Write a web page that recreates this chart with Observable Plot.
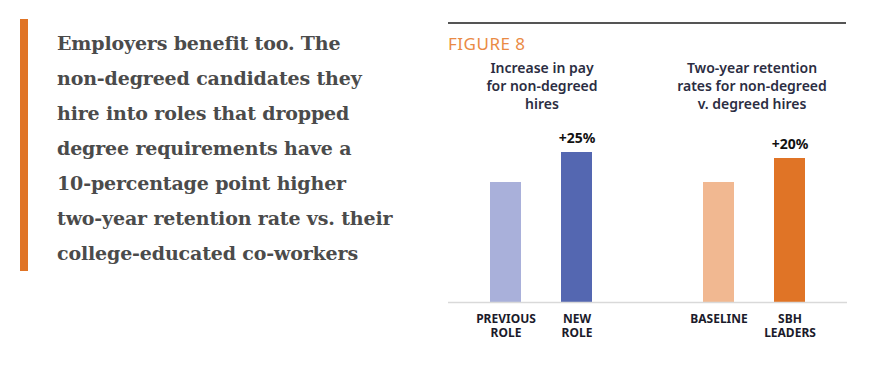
<!DOCTYPE html>
<html>
<head>
<meta charset="utf-8">
<script src="https://cdn.jsdelivr.net/npm/d3@7"></script>
<script src="https://cdn.jsdelivr.net/npm/@observablehq/plot@0.6"></script>
<style>
  html, body { margin: 0; padding: 0; background: #fff; }
  body { width: 888px; height: 365px; position: relative; overflow: hidden; }
  .quote-bar { position: absolute; left: 20px; top: 19px; width: 8px; height: 252px; background: #e07426; }
  .quote { position: absolute; left: 57px; top: 26px; font-family: "DejaVu Serif", serif; font-weight: bold; font-size: 19px; line-height: 35px; color: #4b4b4b; white-space: nowrap; letter-spacing: -0.15px; }
  .toprule { position: absolute; left: 448px; top: 22px; width: 398px; height: 1.5px; background: #555; }
  .figure { position: absolute; left: 448px; top: 32px; font-family: "Noto Sans", sans-serif; font-size: 17px; color: #ea8a45; letter-spacing: 0.5px; }
  .sub { position: absolute; top: 59px; width: 220px; text-align: center; font-family: "Noto Sans", sans-serif; font-weight: 600; font-size: 14px; line-height: 18px; color: #2b2d42; }
  #chart { position: absolute; left: 440px; top: 0; }
</style>
</head>
<body>
<div class="quote-bar"></div>
<div class="quote" id="quote"></div>
<div class="toprule"></div>
<div class="figure" id="figure"></div>
<div class="sub" id="sub1" style="left:432px"></div>
<div class="sub" id="sub2" style="left:642px"></div>
<div id="chart"></div>
<script>
// ---- data ----
const quoteLines = [
  "Employers benefit too. The",
  "non-degreed candidates they",
  "hire into roles that dropped",
  "degree requirements have a",
  "10-percentage point higher",
  "two-year retention rate vs. their",
  "college-educated co-workers"
];
const figureLabel = "FIGURE 8";
const subtitle1 = ["Increase in pay", "for non-degreed", "hires"];
const subtitle2 = ["Two-year retention", "rates for non-degreed", "v. degreed hires"];
const categories = ["PREVIOUS ROLE", "NEW ROLE", "BASELINE", "SBH LEADERS"];
const values = [100, 125, 100, 120];
const barColors = ["#a9b0da", "#5467b1", "#f1b891", "#e07426"];
const valueLabels = ["", "+25%", "", "+20%"];
const tickLabels = ["PREVIOUS\nROLE", "NEW\nROLE", "BASELINE", "SBH\nLEADERS"];
const spacer = " ";

// ---- text blocks ----
document.getElementById("quote").innerHTML = quoteLines.join("<br>");
document.getElementById("figure").textContent = figureLabel;
document.getElementById("sub1").innerHTML = subtitle1.join("<br>");
document.getElementById("sub2").innerHTML = subtitle2.join("<br>");

// ---- chart ----
const data = categories.map((c, i) => ({cat: c, value: values[i], color: barColors[i], label: valueLabels[i]}));
const tickMap = new Map(categories.map((c, i) => [c, tickLabels[i]]));
const xDomain = [categories[0], categories[1], spacer, categories[2], categories[3]];

const chart = Plot.plot({
  width: 448,
  height: 365,
  marginLeft: 8,
  marginRight: 41,
  marginTop: 152,
  marginBottom: 63,
  style: {fontFamily: "Noto Sans, sans-serif", background: "transparent"},
  x: {domain: xDomain, paddingInner: 0.5694, paddingOuter: 0.5556, axis: null},
  y: {domain: [0, 125], axis: null},
  color: {type: "identity"},
  marks: [
    Plot.barY(data, {x: "cat", y: "value", fill: "color"}),
    Plot.ruleY([0], {stroke: "#d9d9d9", strokeWidth: 1.5}),
    Plot.text(data, {x: "cat", y: "value", text: "label", dy: -14, fontSize: 14, fontWeight: "bold", fill: "#111"}),
    Plot.axisX({
      label: null,
      tickSize: 0,
      tickPadding: 10,
      tickFormat: d => tickMap.get(d) ?? "",
      fontSize: 12,
      fontWeight: "bold",
      fill: "#1b1b2b",
      lineHeight: 1.18
    })
  ]
});
document.getElementById("chart").append(chart);
</script>
</body>
</html>
